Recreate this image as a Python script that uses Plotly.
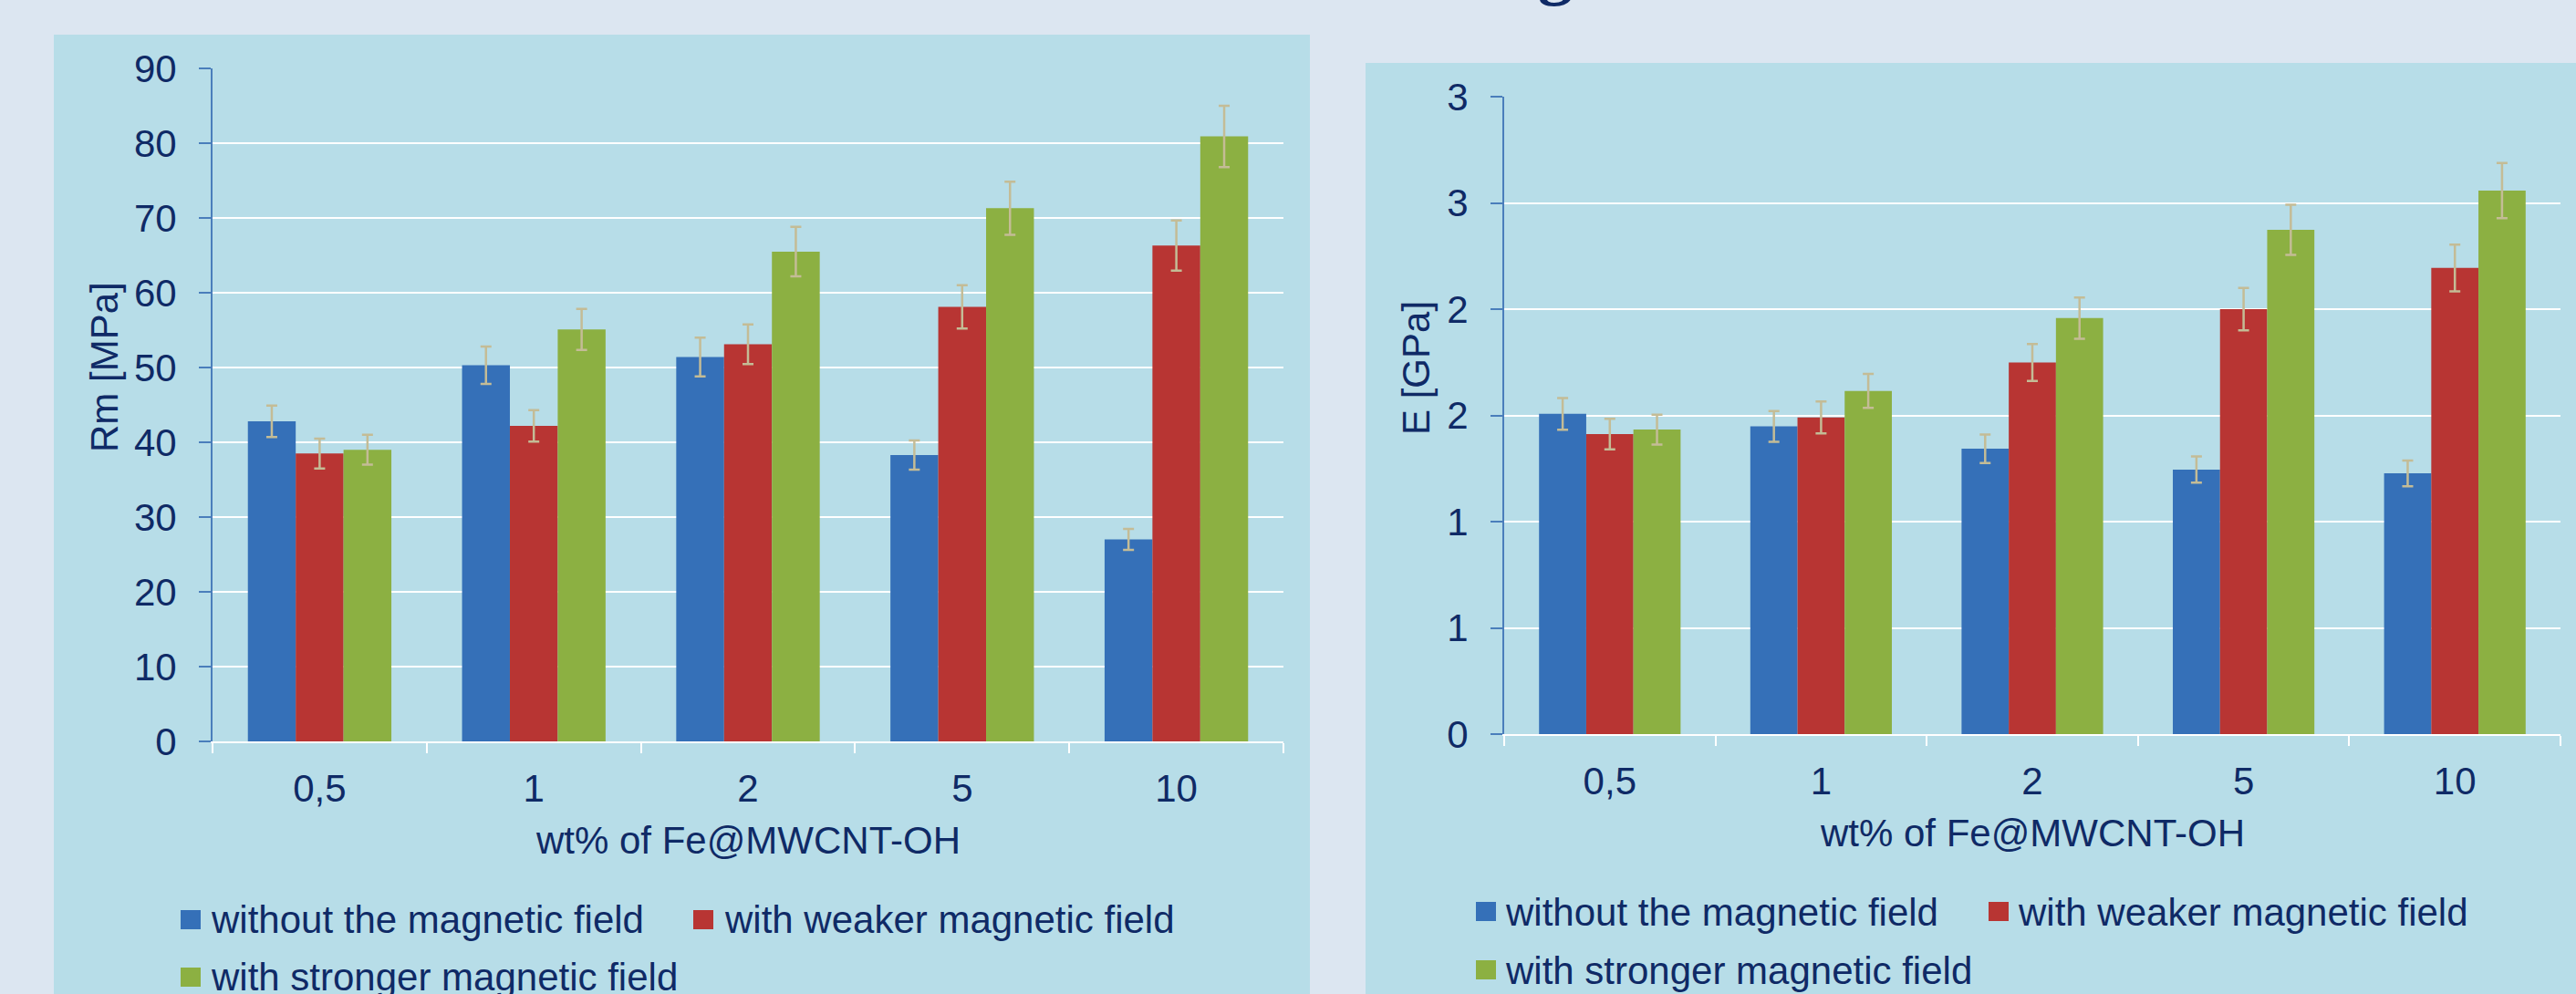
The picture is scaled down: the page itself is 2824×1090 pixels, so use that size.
import plotly.graph_objects as go

W, H = 2824, 1090

# ---------------- data ----------------
categories = ["0,5", "1", "2", "5", "10"]
series_names = ["without the magnetic field", "with weaker magnetic field", "with stronger magnetic field"]

rm_without = [42.8, 50.3, 51.4, 38.3, 27.0]
rm_weaker = [38.5, 42.2, 53.1, 58.1, 66.3]
rm_stronger = [39.0, 55.1, 65.5, 71.3, 80.9]
rm_err_without = [2.1, 2.5, 2.6, 1.95, 1.4]
rm_err_weaker = [2.0, 2.1, 2.65, 2.9, 3.35]
rm_err_stronger = [2.0, 2.75, 3.3, 3.55, 4.1]

e_without = [1.507, 1.448, 1.343, 1.245, 1.227]
e_weaker = [1.412, 1.490, 1.749, 2.000, 2.194]
e_stronger = [1.433, 1.615, 1.958, 2.373, 2.558]
e_err_without = [0.075, 0.072, 0.067, 0.062, 0.061]
e_err_weaker = [0.072, 0.075, 0.087, 0.100, 0.110]
e_err_stronger = [0.070, 0.080, 0.097, 0.118, 0.130]

rm_ticks = [0, 10, 20, 30, 40, 50, 60, 70, 80, 90]
e_tickvals = [0, 0.5, 1.0, 1.5, 2.0, 2.5, 3.0]
e_ticktext = ["0", "1", "1", "2", "2", "3", "3"]

x_title = "wt% of Fe@MWCNT-OH"
rm_title = "Rm [MPa]"
e_title = "E [GPa]"

# ---------------- style ----------------
colors = ["#3570b8", "#b83533", "#8cb042"]
navy = "#0f2a66"
err_color = "#c4bc96"
page_bg = "#dce6f1"
panel_bg = "#b7dde8"
FONT = "Arial, Liberation Sans, sans-serif"
FS = 42


def fx(p):
    return p / W


def fy(p):
    return 1 - p / H


fig = go.Figure()

rm_vals = [rm_without, rm_weaker, rm_stronger]
rm_errs = [rm_err_without, rm_err_weaker, rm_err_stronger]
e_vals = [e_without, e_weaker, e_stronger]
e_errs = [e_err_without, e_err_weaker, e_err_stronger]

for i in range(3):
    fig.add_trace(go.Bar(
        x=categories, y=rm_vals[i], name=series_names[i], showlegend=False,
        marker=dict(color=colors[i], line=dict(width=0)),
        error_y=dict(type="data", array=rm_errs[i], visible=True,
                     color=err_color, thickness=2.5, width=6),
        xaxis="x", yaxis="y"))
for i in range(3):
    fig.add_trace(go.Bar(
        x=categories, y=e_vals[i], name=series_names[i], showlegend=False,
        marker=dict(color=colors[i], line=dict(width=0)),
        error_y=dict(type="data", array=e_errs[i], visible=True,
                     color=err_color, thickness=2.5, width=6),
        xaxis="x2", yaxis="y2"))

xaxis_common = dict(
    type="category", showline=True, linecolor="white", linewidth=2,
    ticks="outside", tickson="boundaries", tickcolor="white", ticklen=11, tickwidth=2,
    showgrid=False, zeroline=False, automargin=False,
    tickfont=dict(family=FONT, size=FS, color=navy), ticklabelstandoff=14,
)
yaxis_common = dict(
    showline=True, linecolor="#4a7ebb", linewidth=2,
    ticks="outside", tickcolor="#4a7ebb", ticklen=13, tickwidth=2,
    showgrid=True, gridcolor="white", gridwidth=2, zeroline=False, automargin=False,
    tickfont=dict(family=FONT, size=FS, color=navy), ticklabelstandoff=16,
)

fig.update_layout(
    width=W, height=H, autosize=False,
    margin=dict(l=0, r=0, t=0, b=0, pad=0, autoexpand=False),
    paper_bgcolor=page_bg, plot_bgcolor="rgba(0,0,0,0)",
    barmode="group", bargap=0.33, bargroupgap=0,
    showlegend=False,
    xaxis=dict(domain=[fx(233), fx(1407)], anchor="y", **xaxis_common),
    yaxis=dict(domain=[fy(813), fy(75)], anchor="x", range=[0, 90],
               tickvals=rm_ticks, **yaxis_common),
    xaxis2=dict(domain=[fx(1649), fx(2807)], anchor="y2", **xaxis_common),
    yaxis2=dict(domain=[fy(805), fy(106)], anchor="x2", range=[0, 3],
                tickvals=e_tickvals, ticktext=e_ticktext, **yaxis_common),
)

shapes = [
    dict(type="rect", xref="paper", yref="paper", x0=fx(59), x1=fx(1436), y0=0, y1=fy(38),
         fillcolor=panel_bg, line=dict(width=0), layer="below"),
    dict(type="rect", xref="paper", yref="paper", x0=fx(1497), x1=1, y0=0, y1=fy(69),
         fillcolor=panel_bg, line=dict(width=0), layer="below"),
]

annotations = []


def text(x, y, s, **kw):
    d = dict(xref="paper", yref="paper", x=fx(x), y=fy(y), text=s, showarrow=False,
             xanchor="center", yanchor="middle",
             font=dict(family=FONT, size=FS, color=navy))
    d.update(kw)
    annotations.append(d)


# axis titles
text(820, 921, x_title)
text(2228, 913, x_title)
text(115, 402, rm_title, textangle=-90)
text(1553, 403, e_title, textangle=-90)

# custom legends
legend_layout = [
    # (marker x0, marker y0, text x, text y)
    [(198, 998, 229, 1008), (760, 998, 792, 1008), (198, 1061, 229, 1071)],
    [(1618, 989, 1648, 1000), (2180, 989, 2210, 1000), (1618, 1053, 1648, 1064)],
]
for panel in legend_layout:
    for i, (mx, my, tx, ty) in enumerate(panel):
        shapes.append(dict(type="rect", xref="paper", yref="paper",
                           x0=fx(mx), x1=fx(mx + 22), y0=fy(my + 21), y1=fy(my),
                           fillcolor=colors[i], line=dict(width=0)))
        text(tx, ty, series_names[i], xanchor="left", yanchor="middle")

# fragment of the title cut off at the top of the picture
annotations.append(dict(xref="paper", yref="paper", x=fx(1705), y=fy(9), text="<b>g</b>",
                        showarrow=False, xanchor="center", yanchor="bottom",
                        font=dict(family="Liberation Serif, Times New Roman, serif", size=76, color=navy)))

fig.update_layout(shapes=shapes, annotations=annotations)

fig.write_html("out.html", config={"displayModeBar": False},
               post_script="document.documentElement.style.margin='0';document.body.style.margin='0';"
                           "document.body.style.overflow='hidden';")
